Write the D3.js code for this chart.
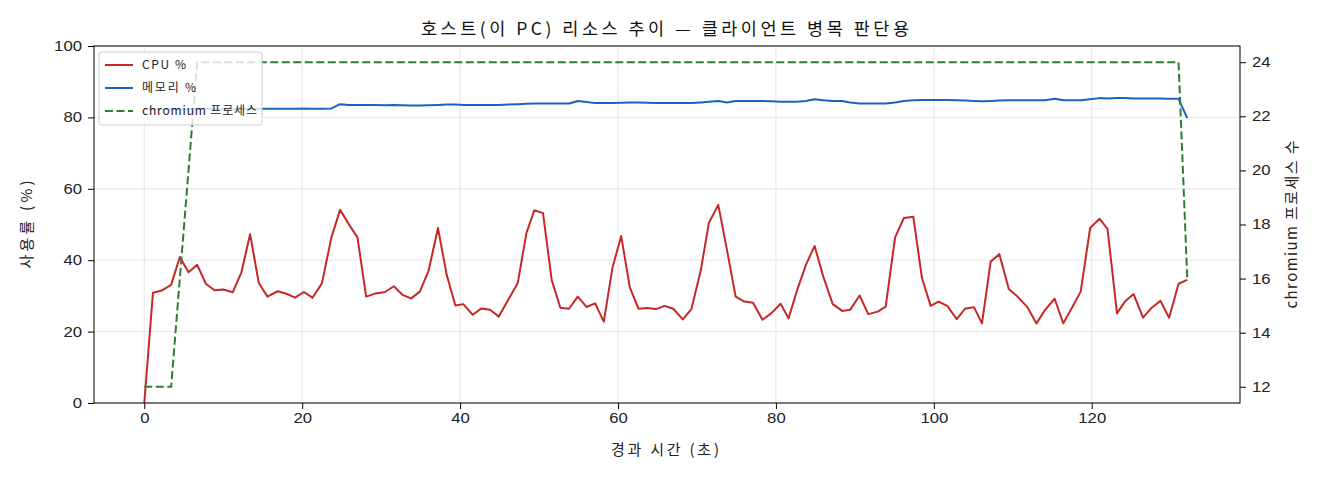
<!DOCTYPE html>
<html>
<head>
<meta charset="utf-8">
<title>호스트 리소스 추이</title>
<script src="https://cdn.jsdelivr.net/npm/d3@7"></script>
<style>
  body { margin: 0; background: #fff; }
  svg { font-family: "Noto Sans CJK KR", "Noto Sans", sans-serif; }
  .grid line { stroke: #b0b0b0; stroke-opacity: 0.3; }
  .axis text { font-size: 14px; fill: #222; }
  .axis path, .axis line { stroke: #000; }
</style>
</head>
<body>
<svg id="chart" width="1320" height="480"></svg>
<script>
// elapsed seconds of each sample
var times = [0.0, 1.1, 2.2, 3.4, 4.5, 5.6, 6.7, 7.8, 8.9, 10.0,
  11.2, 12.3, 13.4, 14.5, 15.6, 16.9, 18.0, 19.1, 20.2, 21.3,
  22.5, 23.7, 24.8, 25.9, 27.0, 28.1, 29.3, 30.5, 31.6, 32.7,
  33.8, 34.9, 36.0, 37.2, 38.3, 39.4, 40.4, 41.6, 42.7, 43.8,
  44.9, 46.1, 47.3, 48.4, 49.4, 50.5, 51.6, 52.7, 53.8, 54.9,
  56.0, 57.1, 58.2, 59.3, 60.4, 61.5, 62.6, 63.7, 64.8, 65.9,
  67.0, 68.2, 69.3, 70.5, 71.5, 72.7, 73.8, 74.9, 76.0, 77.1,
  78.3, 79.4, 80.6, 81.6, 82.7, 83.8, 84.9, 86.0, 87.2, 88.4,
  89.4, 90.6, 91.7, 92.9, 93.9, 95.1, 96.2, 97.4, 98.5, 99.6,
  100.6, 101.7, 102.9, 104.0, 105.1, 106.1, 107.2, 108.3, 109.5, 110.6,
  111.8, 113.0, 114.1, 115.3, 116.4, 117.5, 118.6, 119.8, 121.0, 122.0,
  123.2, 124.2, 125.3, 126.5, 127.6, 128.7, 129.8, 131.0, 132.1];

var cpu = [0, 30.9, 31.5, 33.1, 40.9, 36.6, 38.7, 33.4, 31.6, 31.8,
  31.0, 36.6, 47.3, 33.6, 29.8, 31.3, 30.6, 29.5, 31.1, 29.5,
  33.5, 46.4, 54.1, 50.1, 46.4, 29.8, 30.7, 31.1, 32.7, 30.3,
  29.3, 31.2, 37.0, 49.0, 35.9, 27.3, 27.7, 24.7, 26.5, 26.1,
  24.2, 28.9, 33.6, 47.6, 54.0, 53.2, 34.5, 26.7, 26.4, 29.8,
  26.9, 27.9, 22.8, 37.9, 46.8, 32.3, 26.4, 26.6, 26.3, 27.2,
  26.4, 23.4, 26.3, 37.3, 50.4, 55.5, 42.9, 29.8, 28.4, 28.1,
  23.3, 25.1, 27.8, 23.7, 31.7, 38.7, 44.0, 35.4, 27.7, 25.8,
  26.1, 30.1, 24.9, 25.6, 27.0, 46.4, 51.8, 52.2, 35.0, 27.2,
  28.4, 27.2, 23.5, 26.5, 26.8, 22.3, 39.6, 41.7, 31.9, 29.8,
  27.0, 22.3, 26.1, 29.2, 22.3, 26.7, 31.2, 49.0, 51.6, 48.8,
  25.1, 28.4, 30.5, 23.9, 26.7, 28.6, 23.9, 33.4, 34.5];

var memory = [82.2, 82.3, 82.3, 82.4, 82.3, 82.3, 82.4, 82.4, 82.3, 82.3,
  82.3, 82.4, 82.4, 82.4, 82.4, 82.4, 82.4, 82.4, 82.5, 82.4,
  82.4, 82.5, 83.7, 83.5, 83.5, 83.5, 83.5, 83.4, 83.5, 83.4,
  83.3, 83.3, 83.4, 83.5, 83.6, 83.6, 83.5, 83.5, 83.5, 83.5,
  83.5, 83.6, 83.7, 83.8, 83.9, 83.9, 83.9, 83.9, 83.9, 84.6,
  84.3, 84.0, 84.0, 84.0, 84.1, 84.2, 84.2, 84.1, 84.0, 84.0,
  84.0, 84.0, 84.0, 84.2, 84.4, 84.6, 84.2, 84.6, 84.6, 84.6,
  84.6, 84.5, 84.4, 84.4, 84.4, 84.6, 85.1, 84.8, 84.6, 84.6,
  84.2, 83.9, 83.9, 83.9, 83.9, 84.2, 84.6, 84.8, 84.9, 84.9,
  84.9, 84.9, 84.8, 84.7, 84.6, 84.5, 84.6, 84.7, 84.8, 84.8,
  84.8, 84.8, 84.8, 85.2, 84.8, 84.8, 84.8, 85.1, 85.4, 85.3,
  85.4, 85.4, 85.3, 85.3, 85.3, 85.3, 85.2, 85.2, 79.8];

var chromium = [12, 12, 12, 12, 16, 20, 24, 24, 24, 24,
  24, 24, 24, 24, 24, 24, 24, 24, 24, 24,
  24, 24, 24, 24, 24, 24, 24, 24, 24, 24,
  24, 24, 24, 24, 24, 24, 24, 24, 24, 24,
  24, 24, 24, 24, 24, 24, 24, 24, 24, 24,
  24, 24, 24, 24, 24, 24, 24, 24, 24, 24,
  24, 24, 24, 24, 24, 24, 24, 24, 24, 24,
  24, 24, 24, 24, 24, 24, 24, 24, 24, 24,
  24, 24, 24, 24, 24, 24, 24, 24, 24, 24,
  24, 24, 24, 24, 24, 24, 24, 24, 24, 24,
  24, 24, 24, 24, 24, 24, 24, 24, 24, 24,
  24, 24, 24, 24, 24, 24, 24, 24, 16];

var xTicks = [0, 20, 40, 60, 80, 100, 120];
var leftTicks = [0, 20, 40, 60, 80, 100];
var rightTicks = [12, 14, 16, 18, 20, 22, 24];
var legendLabels = ["CPU %", "메모리 %", "chromium 프로세스"];

var svg = d3.select("#chart");
var plotL = 94, plotR = 1240, plotT = 46, plotB = 403;

var x = d3.scaleLinear().domain([-6.37, 138.78]).range([plotL, plotR]);
var y = d3.scaleLinear().domain([0, 100]).range([plotB, plotT]);
var y2 = d3.scaleLinear().domain([11.4, 24.6]).range([plotB, plotT]);

// grid
var grid = svg.append("g").attr("class", "grid");
grid.selectAll(".gx").data(xTicks).enter().append("line")
  .attr("x1", d => x(d)).attr("x2", d => x(d))
  .attr("y1", plotT).attr("y2", plotB);
grid.selectAll(".gy").data(leftTicks).enter().append("line")
  .attr("x1", plotL).attr("x2", plotR)
  .attr("y1", d => y(d)).attr("y2", d => y(d));

// lines
var idx = d3.range(times.length);
function lineOf(arr, scale) {
  return d3.line().x(i => x(times[i])).y(i => scale(arr[i]))(idx);
}
svg.append("path").attr("d", lineOf(memory, y))
  .attr("fill", "none").attr("stroke", "#1565c0").attr("stroke-width", 2)
  .attr("stroke-linejoin", "round");
svg.append("path").attr("d", lineOf(cpu, y))
  .attr("fill", "none").attr("stroke", "#c62828").attr("stroke-width", 2)
  .attr("stroke-linejoin", "round");
svg.append("path").attr("d", lineOf(chromium, y2))
  .attr("fill", "none").attr("stroke", "#2e7d32").attr("stroke-width", 2)
  .attr("stroke-dasharray", "8,3.5");

// axes
function widen(g) {
  // reference digits are a bit wider than Noto's
  g.selectAll(".tick text")
    .attr("textLength", d => String(d).length * 9.3)
    .attr("lengthAdjust", "spacingAndGlyphs");
}
svg.append("g").attr("class", "axis")
  .attr("transform", "translate(0," + plotB + ")")
  .call(d3.axisBottom(x).tickValues(xTicks).tickSize(6).tickPadding(4).tickSizeOuter(0))
  .call(widen);
svg.append("g").attr("class", "axis")
  .attr("transform", "translate(" + plotL + ",0)")
  .call(d3.axisLeft(y).tickValues(leftTicks).tickSize(6).tickPadding(6).tickSizeOuter(0))
  .call(widen);
svg.append("g").attr("class", "axis")
  .attr("transform", "translate(" + plotR + ",0)")
  .call(d3.axisRight(y2).tickValues(rightTicks).tickSize(6).tickPadding(6).tickSizeOuter(0))
  .call(widen);
svg.selectAll(".axis .domain").remove();
svg.append("rect").attr("x", plotL).attr("y", plotT)
  .attr("width", plotR - plotL).attr("height", plotB - plotT)
  .attr("fill", "none").attr("stroke", "#000").attr("stroke-width", 1);

// labels (reference font is wider, so stretch to its widths)
svg.append("text").attr("x", 665).attr("y", 35)
  .attr("text-anchor", "middle").attr("font-size", 17.5).attr("fill", "#111")
  .attr("textLength", 488).attr("lengthAdjust", "spacing")
  .text("호스트(이 PC) 리소스 추이 — 클라이언트 병목 판단용");
svg.append("text").attr("x", 665).attr("y", 455)
  .attr("text-anchor", "middle").attr("font-size", 15).attr("fill", "#222")
  .attr("textLength", 108).attr("lengthAdjust", "spacing")
  .text("경과 시간 (초)");
svg.append("text").attr("transform", "translate(32," + ((plotT + plotB) / 2) + ") rotate(-90)")
  .attr("text-anchor", "middle").attr("font-size", 15).attr("fill", "#222")
  .attr("textLength", 88).attr("lengthAdjust", "spacing")
  .text("사용률 (%)");
svg.append("text").attr("transform", "translate(1297," + ((plotT + plotB) / 2) + ") rotate(-90)")
  .attr("text-anchor", "middle").attr("font-size", 15).attr("fill", "#222")
  .attr("textLength", 168).attr("lengthAdjust", "spacing")
  .text("chromium 프로세스 수");

// legend
var lg = svg.append("g").attr("transform", "translate(99,52)");
lg.append("rect").attr("width", 163).attr("height", 73).attr("rx", 3)
  .attr("fill", "#fff").attr("fill-opacity", 0.8).attr("stroke", "#ccc");
var legColors = ["#c62828", "#1565c0", "#2e7d32"];
var legWidths = [44, 54, 115];
legendLabels.forEach(function(lbl, i) {
  var yy = 13 + i * 23;
  lg.append("line").attr("x1", 6).attr("x2", 34).attr("y1", yy).attr("y2", yy)
    .attr("stroke", legColors[i]).attr("stroke-width", 2)
    .attr("stroke-dasharray", i == 2 ? "8,3.5" : null);
  lg.append("text").attr("x", 43).attr("y", yy + 4)
    .attr("font-size", 12).attr("fill", "#222")
    .attr("textLength", legWidths[i]).attr("lengthAdjust", "spacing").text(lbl);
});
</script>
</body>
</html>
